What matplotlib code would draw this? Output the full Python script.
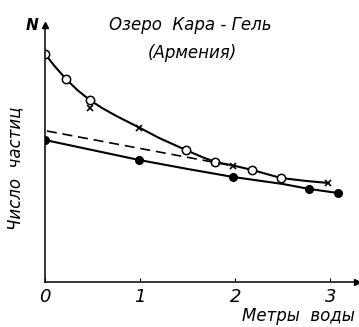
import matplotlib
matplotlib.use("Agg")
import matplotlib.pyplot as plt

# (depth in metres, particle count in arbitrary units)
curve_x = [0.0, 0.1, 0.22, 0.34, 0.47, 0.6, 0.75, 1.0, 1.2, 1.48, 1.65, 1.79, 2.0, 2.18, 2.48, 2.75, 2.98]
curve_y = [22.8, 21.6, 20.3, 19.2, 18.2, 17.4, 16.6, 15.4, 14.4, 13.2, 12.5, 12.0, 11.6, 11.2, 10.4, 10.1, 9.9]

open_x = [0.0, 0.22, 0.47, 1.48, 1.79, 2.18, 2.48]
open_y = [22.8, 20.3, 18.2, 13.2, 12.0, 11.2, 10.4]

cross_x = [0.47, 0.99, 1.98, 2.98]
cross_y = [17.4, 15.4, 11.6, 9.9]

filled_x = [0.0, 0.99, 1.5, 1.98, 2.5, 2.78, 3.08]
filled_y = [14.2, 12.2, 11.3, 10.5, 9.8, 9.3, 8.9]
filled_mark_x = [0.0, 0.99, 1.98, 2.78, 3.08]
filled_mark_y = [14.2, 12.2, 10.5, 9.3, 8.9]

dash_x = [0.02, 1.93]
dash_y = [15.1, 11.7]

xticks = [0, 1, 2, 3]

FONT = ["Liberation Sans Narrow", "DejaVu Sans"]

fig = plt.figure(figsize=(3.59, 3.27), dpi=100)
ax = fig.add_axes([45 / 359, 45 / 327, 312 / 359, 257 / 327])
ax.set_xlim(0, 3.28)
ax.set_ylim(0, 25.7)

ax.plot(curve_x, curve_y, color="black", lw=1.5)
ax.plot(open_x, open_y, "o", ms=6, mfc="white", mec="black", mew=1.1)
ax.plot(cross_x, cross_y, "x", ms=4.5, color="black", mew=1.2)
ax.plot(filled_x, filled_y, color="black", lw=1.5)
ax.plot(filled_mark_x, filled_mark_y, "o", ms=5.5, color="black")
ax.plot(dash_x, dash_y, color="black", lw=1.2, dashes=(6, 3.5))

for s in ["top", "right"]:
    ax.spines[s].set_visible(False)
ax.spines["left"].set_linewidth(1.1)
ax.spines["bottom"].set_linewidth(1.1)
ax.plot(1, 0, ">", color="black", ms=4, transform=ax.transAxes, clip_on=False)
ax.plot(0, 1, "^", color="black", ms=4, transform=ax.transAxes, clip_on=False)

ax.set_yticks([])
ax.set_xticks(xticks)
ax.set_xticklabels([str(t) for t in xticks], fontsize=13, style="italic", family=FONT)
ax.tick_params(axis="x", direction="in", length=3, pad=4)

fig.text(32 / 359, 1 - 25 / 327, "N", fontsize=11, style="italic", weight="bold",
         family=FONT, ha="center", va="center")
fig.text(190 / 359, 1 - 25 / 327, "Озеро  Кара - Гель", fontsize=12, style="italic",
         family=FONT, ha="center", va="center")
fig.text(192 / 359, 1 - 53 / 327, "(Армения)", fontsize=12, style="italic",
         family=FONT, ha="center", va="center")
fig.text(15 / 359, 1 - 168 / 327, "Число  частиц", fontsize=12, style="italic",
         family=FONT, rotation=90, ha="center", va="center")
fig.text(298 / 359, 1 - 316 / 327, "Метры  воды", fontsize=12, style="italic",
         family=FONT, ha="center", va="center")

fig.savefig("out.png", dpi=100)
